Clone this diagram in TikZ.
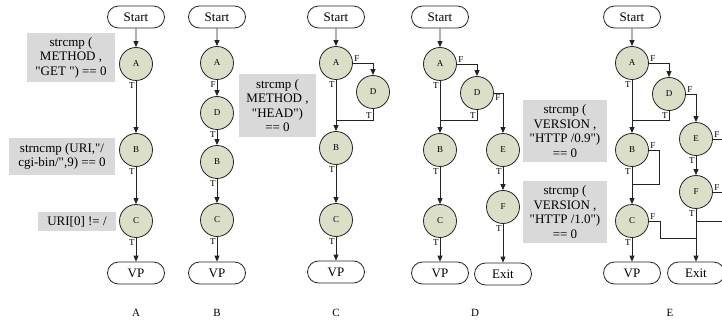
\documentclass[tikz,border=0pt]{standalone}
\usepackage{fontspec}
\setmainfont{Liberation Serif}
\usetikzlibrary{arrows.meta,shapes.misc}
\definecolor{nodefill}{RGB}{220,223,200}
\definecolor{boxfill}{RGB}{217,217,217}
\definecolor{linec}{RGB}{35,35,35}
\newcommand{\dq}{\textquotedbl}
\tikzset{
 term/.style={rounded rectangle, draw=linec, line width=0.8pt, minimum width=57pt, minimum height=22pt, inner sep=0pt, font=\fontsize{13}{14}\selectfont},
 cnode/.style={circle, draw=linec, line width=0.8pt, fill=nodefill, minimum size=33pt, inner sep=0pt, font=\fontsize{9}{10}\selectfont},
 cond/.style={fill=boxfill, inner sep=0pt, align=center, font=\fontsize{13}{14.5}\selectfont},
 arr/.style={draw=linec, line width=0.9pt, -{Triangle[length=6pt,width=5pt]}},
 ln/.style={draw=linec, line width=0.9pt},
 tl/.style={pos=0, anchor=north east, inner sep=1pt, font=\fontsize{9}{10}\selectfont},
 fl/.style={pos=0, anchor=south west, inner sep=1pt, font=\fontsize{9}{10}\selectfont},
 flb/.style={pos=0, anchor=north west, inner sep=1pt, font=\fontsize{9}{10}\selectfont},
 tc/.style={pos=0.5, anchor=south east, inner sep=1pt, font=\fontsize{9}{10}\selectfont},
 title/.style={font=\fontsize{11}{12}\selectfont},
}
\begin{document}
\begin{tikzpicture}[x=1pt,y=-1pt]
\useasboundingbox (0,0) rectangle (722,323);
% ---------------- Panel A
\node[cond, minimum width=88pt, minimum height=49pt] (bA1) at (71,57.5) {strcmp (\\METHOD ,\\\dq GET \dq) == 0};
\node[cond, minimum width=106pt, minimum height=37pt] (bA2) at (62,156.5) {strncmp (URI,\dq/\\cgi-bin/\dq,9) == 0};
\node[cond, minimum width=78pt, minimum height=19pt] (bA3) at (77,221.5) {URI[0] != /};
\node[term] (aS) at (136,17) {Start};
\node[cnode] (aA) at (136,64) {A};
\node[cnode] (aB) at (136,150) {B};
\node[cnode] (aC) at (136,221) {C};
\node[term] (aVP) at (136,273) {VP};
\node[title] (tA) at (136,313) {A};
\draw[arr] (aS) -- (aA);
\draw[arr] (aA) -- node[tl]{T} (aB);
\draw[arr] (aB) -- node[tl]{T} (aC);
\draw[arr] (aC) -- node[tl]{T} (aVP);
% ---------------- Panel B
\node[cond, minimum width=77pt, minimum height=63pt] (bB1) at (277.5,105.5) {strcmp (\\METHOD ,\\\dq HEAD\dq)\\== 0};
\node[term] (bS) at (217,17) {Start};
\node[cnode] (bA) at (217,63) {A};
\node[cnode] (bD) at (217,113) {D};
\node[cnode] (bB) at (217,162) {B};
\node[cnode] (bC) at (217,220) {C};
\node[term] (bVP) at (217,273) {VP};
\node[title] (tB) at (217,313) {B};
\draw[arr] (bS) -- (bA);
\draw[arr] (bA) -- node[tl]{F} (bD);
\draw[arr] (bD) -- node[tl]{T} (bB);
\draw[arr] (bB) -- node[tl]{T} (bC);
\draw[arr] (bC) -- node[tl]{T} (bVP);
% ---------------- Panel C
\node[term] (cS) at (336,17) {Start};
\node[cnode] (cA) at (336,63) {A};
\node[cnode] (cD) at (373,92) {D};
\node[cnode] (cB) at (336,148) {B};
\node[cnode] (cC) at (336,220) {C};
\node[term] (cVP) at (336,272) {VP};
\node[title] (tC) at (336,313) {C};
\coordinate (cJ) at (336,120);
\draw[arr] (cS) -- (cA);
\draw[arr] (cA.east) -| node[fl]{F} (cD.north);
\draw[arr] (cA) -- node[tl]{T} (cB);
\draw[ln] (cD.south) |- node[tc]{T} (cJ);
\draw[arr] (cB) -- node[tl]{T} (cC);
\draw[arr] (cC) -- node[tl]{T} (cVP);
% ---------------- Panel D
\node[cond, minimum width=84pt, minimum height=62pt] (bD1) at (565,131) {strcmp (\\VERSION ,\\\dq HTTP /0.9\dq)\\== 0};
\node[cond, minimum width=84pt, minimum height=62pt] (bD2) at (565,212) {strcmp (\\VERSION ,\\\dq HTTP /1.0\dq)\\== 0};
\node[term] (dS) at (440,17) {Start};
\node[cnode] (dA) at (440,64) {A};
\node[cnode] (dD) at (477,93) {D};
\node[cnode] (dB) at (440,150) {B};
\node[cnode] (dE) at (503,150) {E};
\node[cnode] (dF) at (503,207) {F};
\node[cnode] (dC) at (440,221) {C};
\node[term] (dVP) at (440,273) {VP};
\node[term] (dX) at (503,274) {Exit};
\node[title] (tD) at (475,313) {D};
\coordinate (dJ) at (440,120);
\draw[arr] (dS) -- (dA);
\draw[arr] (dA.east) -| node[fl]{F} (dD.north);
\draw[arr] (dA) -- node[tl]{T} (dB);
\draw[ln] (dD.south) |- node[tc]{T} (dJ);
\draw[arr] (dD.east) -| node[flb]{F} (dE.north);
\draw[arr] (dE) -- node[tl]{T} (dF);
\draw[arr] (dF) -- node[tl]{T} (dX);
\draw[arr] (dB) -- node[tl]{T} (dC);
\draw[arr] (dC) -- node[tl]{T} (dVP);
% ---------------- Panel E
\node[term] (eS) at (632,17) {Start};
\node[cnode] (eA) at (632,63) {A};
\node[cnode] (eD) at (669,94) {D};
\node[cnode] (eE) at (696,139) {E};
\node[cnode] (eB) at (632,150) {B};
\node[cnode] (eF) at (696,192) {F};
\node[cnode] (eC) at (632,221) {C};
\node[term] (eVP) at (632,273) {VP};
\node[term] (eX) at (696,273) {Exit};
\node[title] (tE) at (670,313) {E};
\coordinate (eJ1) at (632,120);
\coordinate (eJ2) at (632,184);
\coordinate (eB1) at (659,150);
\coordinate (eC1) at (660,221);
\coordinate (eC2) at (696,238);
\coordinate (eEo) at (730,139);
\coordinate (eFo) at (730,192);
\coordinate (eRi) at (730,221);
\coordinate (eRj) at (696,221);
\draw[arr] (eS) -- (eA);
\draw[arr] (eA.east) -| node[fl]{F} (eD.north);
\draw[arr] (eA) -- node[tl]{T} (eB);
\draw[ln] (eD.south) |- node[tc]{T} (eJ1);
\draw[arr] (eD.east) -| node[fl]{F} (eE.north);
\draw[ln] (eE.east) -- node[fl]{F} (eEo);
\draw[arr] (eE) -- node[tl]{T} (eF);
\draw[ln] (eF.east) -- node[fl]{F} (eFo);
\draw[arr] (eF) -- node[tl]{T} (eX);
\draw[ln] (eRi) -- (eRj);
\draw[ln] (eB.east) -- node[fl]{F} (eB1) |- (eJ2);
\draw[arr] (eB) -- node[tl]{T} (eC);
\draw[ln] (eC.east) -- node[fl]{F} (eC1) |- (eC2);
\draw[arr] (eC) -- node[tl]{T} (eVP);
\end{tikzpicture}
\end{document}
